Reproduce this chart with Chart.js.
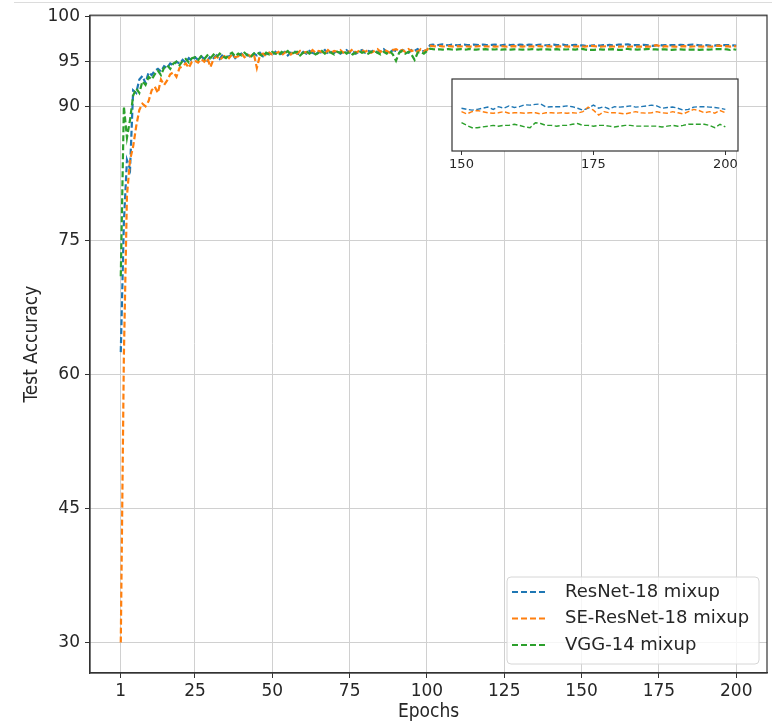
<!DOCTYPE html>
<html>
<head>
<meta charset="utf-8">
<script src="https://cdn.jsdelivr.net/npm/chart.js@4.4.1/dist/chart.umd.min.js"></script>
<style>
  html, body { margin: 0; padding: 0; background: #fff; }
  #wrap { position: relative; width: 772px; height: 723px; overflow: hidden; }
  #topline { position: absolute; left: 14px; right: 0; top: 2px; height: 1px; background: #dcdcdc; }
  #main { position: absolute; left: 0; top: 0; }
  #inset { position: absolute; left: 440px; top: 70px; }
</style>
</head>
<body>
<div id="wrap">
  <div id="topline"></div>
  <canvas id="main" width="772" height="723"></canvas>
  <canvas id="inset" width="310" height="110"></canvas>
</div>
<script>
// epochs 1..200
const epochs = Array.from({ length: 200 }, (_, i) => i + 1);

const resnet = [
  62.5, 77.0, 84.0, 83.0, 91.8, 91.5, 93.0, 93.4, 92.6, 93.8,
  93.5, 94.0, 94.2, 93.9, 94.5, 94.3, 94.8, 94.6, 95.0, 94.8,
  95.2, 94.9, 95.4, 95.1, 95.5, 95.2, 95.6, 95.3, 95.1, 95.6,
  95.4, 95.7, 95.3, 95.8, 95.5, 95.6, 95.9, 95.4, 95.7, 95.9,
  95.6, 95.8, 95.5, 95.9, 95.7, 96.0, 95.6, 95.8, 96.0, 95.7,
  96.1, 95.8, 95.9, 96.1, 95.7, 96.0, 96.2, 95.9, 95.8, 96.1,
  95.9, 96.2, 96.0, 95.8, 96.1, 96.0, 96.3, 95.9, 96.1, 96.0,
  96.2, 95.9, 96.1, 96.3, 96.0, 96.2, 95.9, 96.1, 96.3, 96.0,
  96.2, 96.1, 96.3, 96.0, 96.2, 96.4, 96.1, 96.0, 96.3, 96.2,
  96.1, 96.3, 96.2, 96.0, 96.3, 96.2, 96.4, 96.1, 96.2, 96.3,
  96.85, 96.90, 96.82, 96.88, 96.93, 96.86, 96.84, 96.90, 96.87, 96.83,
  96.89, 96.92, 96.86, 96.84, 96.90, 96.88, 96.85, 96.91, 96.87, 96.84,
  96.88, 96.91, 96.85, 96.83, 96.89, 96.92, 96.86, 96.88, 96.84, 96.90,
  96.87, 96.85, 96.90, 96.88, 96.83, 96.89, 96.91, 96.86, 96.84, 96.88,
  96.90, 96.85, 96.87, 96.91, 96.84, 96.88, 96.86, 96.89, 96.85, 96.82,
  96.79, 96.77, 96.79, 96.82, 96.85, 96.79, 96.86, 96.82, 96.88, 96.84,
  96.86, 96.91, 96.90, 96.92, 96.93, 96.85, 96.86, 96.86, 96.86, 96.88,
  96.86, 96.82, 96.77, 96.82, 96.90, 96.82, 96.86, 96.80, 96.86, 96.85,
  96.86, 96.88, 96.85, 96.86, 96.88, 96.90, 96.88, 96.82, 96.84, 96.85,
  96.82, 96.77, 96.79, 96.85, 96.86, 96.86, 96.85, 96.84, 96.82, 96.79
];

const seResnet = [
  30.0, 62.0, 80.0, 84.0, 85.5, 87.8, 89.6, 90.3, 90.0, 90.6,
  91.8, 92.2, 91.5, 93.0, 92.4, 92.9, 93.6, 93.8, 93.3, 94.3,
  94.5, 94.8, 94.3, 95.0, 95.1, 94.9, 95.3, 95.0, 95.4, 94.4,
  95.3, 95.6, 95.2, 95.5, 95.7, 95.4, 95.8, 95.5, 95.6, 95.9,
  95.5, 95.8, 95.6, 95.9, 94.3, 95.7, 95.9, 95.6, 96.0, 95.8,
  95.9, 96.1, 95.7, 96.0, 96.2, 95.8, 96.1, 95.9, 96.2, 96.0,
  96.1, 95.9, 96.3, 96.0, 96.2, 96.1, 95.9, 96.3, 96.0, 96.2,
  96.1, 96.3, 96.0, 96.2, 96.1, 96.4, 96.0, 96.2, 96.3, 96.1,
  96.3, 96.0, 96.2, 96.4, 96.1, 96.3, 96.2, 96.0, 96.3, 96.4,
  96.2, 96.3, 96.1, 96.4, 96.2, 96.3, 96.1, 96.4, 96.2, 96.3,
  96.80, 96.74, 96.70, 96.76, 96.72, 96.69, 96.74, 96.71, 96.68, 96.73,
  96.70, 96.75, 96.71, 96.68, 96.73, 96.70, 96.74, 96.69, 96.72, 96.70,
  96.73, 96.69, 96.71, 96.75, 96.70, 96.68, 96.72, 96.74, 96.70, 96.71,
  96.69, 96.73, 96.70, 96.72, 96.68, 96.74, 96.71, 96.69, 96.73, 96.70,
  96.72, 96.68, 96.71, 96.74, 96.70, 96.69, 96.73, 96.70, 96.72, 96.73,
  96.67, 96.73, 96.76, 96.73, 96.70, 96.69, 96.70, 96.73, 96.69, 96.70,
  96.70, 96.69, 96.70, 96.70, 96.67, 96.70, 96.70, 96.69, 96.70, 96.69,
  96.70, 96.69, 96.73, 96.85, 96.77, 96.64, 96.73, 96.70, 96.70, 96.69,
  96.67, 96.70, 96.73, 96.70, 96.69, 96.70, 96.73, 96.70, 96.69, 96.73,
  96.70, 96.67, 96.73, 96.79, 96.76, 96.70, 96.73, 96.69, 96.76, 96.70
];

const vgg = [
  71.0, 90.0, 86.5, 88.5, 91.2, 92.0, 91.5, 92.8, 92.4, 93.3,
  93.0, 93.6, 94.0, 93.5, 94.3, 94.6, 94.2, 94.8, 95.0, 94.6,
  95.1, 95.3, 94.9, 95.4, 95.5, 95.2, 95.6, 95.3, 95.7, 95.4,
  95.8, 95.5, 95.9, 95.6, 95.4, 95.8, 96.0, 95.6, 95.9, 95.7,
  96.0, 95.7, 95.5, 95.9, 96.1, 95.8, 95.6, 96.0, 95.8, 96.1,
  95.9, 95.7, 96.1, 95.9, 96.2, 95.8, 96.0, 96.1, 95.7, 96.0,
  96.2, 95.9, 96.1, 95.8, 96.0, 96.2, 95.9, 96.1, 96.0, 95.8,
  96.1, 96.0, 96.2, 95.9, 96.1, 95.8, 96.0, 96.2, 96.0, 96.1,
  95.9, 96.1, 96.2, 96.0, 95.8, 96.1, 95.9, 96.2, 95.8, 95.1,
  96.0, 96.2, 95.9, 96.1, 95.8, 95.2, 96.0, 96.1, 95.9, 96.2,
  96.45, 96.40, 96.36, 96.39, 96.34, 96.38, 96.41, 96.36, 96.33, 96.38,
  96.40, 96.35, 96.37, 96.42, 96.36, 96.34, 96.39, 96.37, 96.40, 96.35,
  96.38, 96.36, 96.41, 96.34, 96.37, 96.39, 96.35, 96.38, 96.40, 96.36,
  96.34, 96.38, 96.36, 96.41, 96.37, 96.35, 96.39, 96.36, 96.38, 96.34,
  96.37, 96.40, 96.35, 96.38, 96.36, 96.39, 96.37, 96.35, 96.40, 96.44,
  96.37, 96.31, 96.31, 96.33, 96.35, 96.37, 96.35, 96.37, 96.37, 96.40,
  96.37, 96.33, 96.31, 96.44, 96.42, 96.37, 96.37, 96.35, 96.37, 96.37,
  96.40, 96.42, 96.37, 96.37, 96.35, 96.37, 96.37, 96.35, 96.33, 96.35,
  96.37, 96.37, 96.35, 96.35, 96.35, 96.35, 96.35, 96.33, 96.35, 96.37,
  96.35, 96.37, 96.40, 96.40, 96.40, 96.40, 96.37, 96.31, 96.40, 96.33
];

const seriesNames = ["ResNet-18 mixup", "SE-ResNet-18 mixup", "VGG-14 mixup"];
const seriesColors = ["#1f77b4", "#ff7f0e", "#2ca02c"];
const xTicks = [1, 25, 50, 75, 100, 125, 150, 175, 200];
const yTicks = [30, 45, 60, 75, 90, 95, 100];
const insetTicks = [150, 175, 200];
const insetFrom = 150;

const FONT = "'DejaVu Sans', sans-serif";
const COND = "'DejaVu Sans Condensed', 'DejaVu Sans', sans-serif";
const INK = "#262626";

function toPoints(values, from) {
  return values
    .map((v, i) => ({ x: epochs[i], y: v }))
    .filter(p => p.x >= from);
}

function makeDatasets(from, width, dash) {
  return [resnet, seResnet, vgg].map((vals, i) => ({
    label: seriesNames[i],
    data: toPoints(vals, from),
    borderColor: seriesColors[i],
    backgroundColor: seriesColors[i],
    borderWidth: width,
    borderDash: dash,
    pointRadius: 0,
    tension: 0,
    fill: false,
    order: 3 - i,
  }));
}

const framePlugin = {
  id: "frame",
  afterDatasetsDraw(chart) {
    const { ctx, chartArea: a } = chart;
    ctx.save();
    ctx.strokeStyle = "#333";
    ctx.lineWidth = 1.2;
    ctx.strokeRect(a.left, a.top, a.right - a.left, a.bottom - a.top);
    ctx.restore();
  },
};

const legendBox = {
  id: "legendBox",
  afterDraw(chart) {
    const { ctx, chartArea: a } = chart;
    const w = 252, h = 87;
    const x = a.right - w - 8, y = a.bottom - h - 9;
    ctx.save();
    ctx.beginPath();
    ctx.roundRect(x, y, w, h, 4);
    ctx.fillStyle = "rgba(255,255,255,0.8)";
    ctx.fill();
    ctx.strokeStyle = "#d6d6d6";
    ctx.lineWidth = 1;
    ctx.stroke();
    ctx.font = "18px " + FONT;
    ctx.textBaseline = "middle";
    seriesNames.forEach((name, i) => {
      const ry = y + 15 + i * 26.5;
      ctx.strokeStyle = seriesColors[i];
      ctx.lineWidth = 2;
      ctx.setLineDash([6, 3]);
      ctx.beginPath();
      ctx.moveTo(x + 5, ry);
      ctx.lineTo(x + 41, ry);
      ctx.stroke();
      ctx.setLineDash([]);
      ctx.fillStyle = INK;
      ctx.fillText(name, x + 58, ry);
    });
    ctx.restore();
  },
};

new Chart(document.getElementById("main"), {
  type: "line",
  data: { datasets: makeDatasets(0, 2.2, [6, 3]) },
  options: {
    responsive: false,
    animation: false,
    devicePixelRatio: 1,
    layout: { padding: { top: 11, right: 5, left: 0, bottom: 0 } },
    plugins: { legend: { display: false }, tooltip: { enabled: false } },
    scales: {
      x: {
        type: "linear",
        min: -8.95,
        max: 209.95,
        afterBuildTicks: s => { s.ticks = xTicks.map(v => ({ value: v })); },
        afterFit: s => { s.height = 50; },
        ticks: {
          autoSkip: false, maxRotation: 0, padding: 3,
          font: { family: FONT, size: 17 }, color: INK,
          callback: v => String(v),
        },
        grid: { color: "#d0d0d0", lineWidth: 1, tickLength: 5, tickColor: "#333" },
        border: { color: "#333", width: 1.2 },
        title: {
          display: true, text: "Epochs",
          font: { family: COND, size: 19 }, color: INK,
          padding: { top: 0, bottom: 0 },
        },
      },
      y: {
        type: "linear",
        min: 26.6,
        max: 100.2,
        afterBuildTicks: s => { s.ticks = yTicks.map(v => ({ value: v })); },
        afterFit: s => { s.width = 90; },
        ticks: {
          autoSkip: false, padding: 5,
          font: { family: FONT, size: 17 }, color: INK,
          callback: v => String(v),
        },
        grid: { color: "#d0d0d0", lineWidth: 1, tickLength: 5, tickColor: "#333" },
        border: { color: "#333", width: 1.2 },
        title: {
          display: true, text: "Test Accuracy",
          font: { family: COND, size: 19 }, color: INK,
          padding: { top: 21, bottom: 0 },
        },
      },
    },
  },
  plugins: [framePlugin, legendBox],
});

const insetBg = {
  id: "insetBg",
  beforeDraw(chart) {
    const { ctx, chartArea: a } = chart;
    ctx.save();
    ctx.fillStyle = "#fff";
    ctx.fillRect(a.left, a.top, a.right - a.left, a.bottom - a.top);
    ctx.restore();
  },
};

new Chart(document.getElementById("inset"), {
  type: "line",
  data: { datasets: makeDatasets(insetFrom, 1.4, [5, 2.5]) },
  options: {
    responsive: false,
    animation: false,
    devicePixelRatio: 1,
    layout: { padding: { top: 9, right: 12, left: 12, bottom: 0 } },
    plugins: { legend: { display: false }, tooltip: { enabled: false } },
    scales: {
      x: {
        type: "linear",
        min: 148.2,
        max: 202.4,
        afterBuildTicks: s => { s.ticks = insetTicks.map(v => ({ value: v })); },
        afterFit: s => { s.height = 29; },
        ticks: {
          autoSkip: false, maxRotation: 0, padding: 2,
          font: { family: FONT, size: 13 }, color: INK,
          callback: v => String(v),
        },
        grid: { drawOnChartArea: false, tickLength: 4, tickColor: "#333" },
        border: { display: false },
      },
      y: { display: false, min: 95.70, max: 97.585 },
    },
  },
  plugins: [insetBg, framePlugin],
});
</script>
</body>
</html>
